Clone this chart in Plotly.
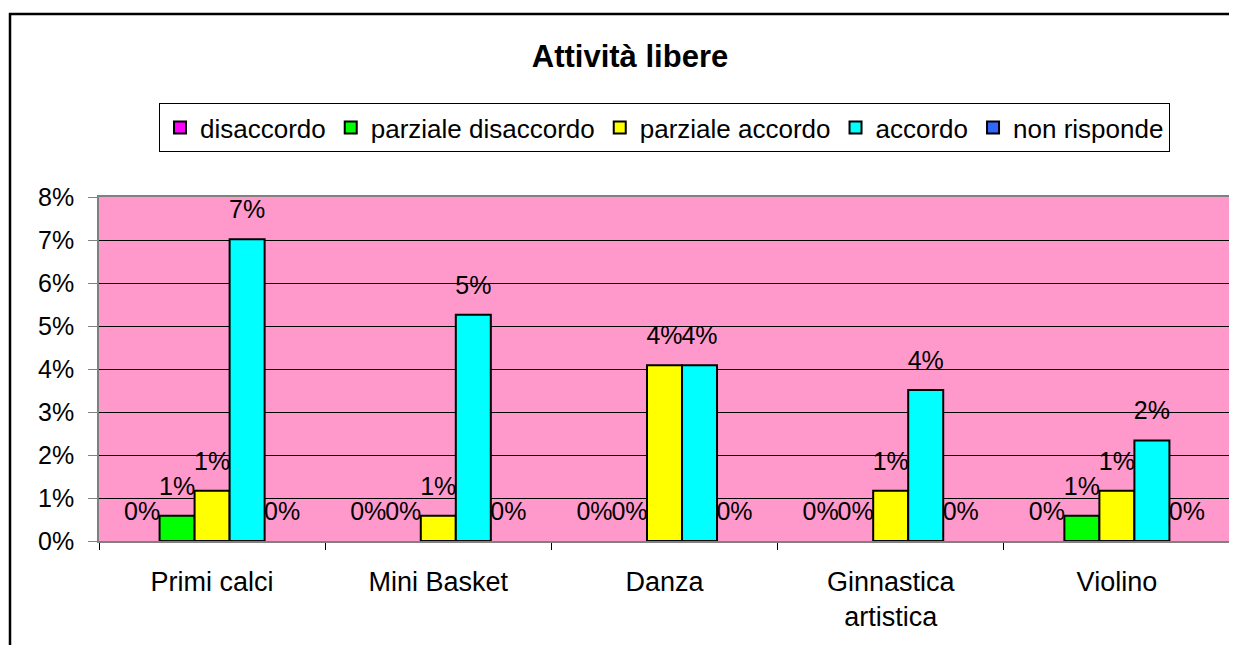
import plotly.graph_objects as go

categories = ["Primi calci", "Mini Basket", "Danza", "Ginnastica<br>artistica", "Violino"]
series_names = ["disaccordo", "parziale disaccordo", "parziale accordo", "accordo", "non risponde"]
disaccordo = [0.0, 0.0, 0.0, 0.0, 0.0]
parziale_disaccordo = [0.00585, 0.0, 0.0, 0.0, 0.00585]
parziale_accordo = [0.0117, 0.00585, 0.0409, 0.0117, 0.0117]
accordo = [0.0702, 0.0526, 0.0409, 0.0351, 0.0234]
non_risponde = [0.0, 0.0, 0.0, 0.0, 0.0]
series_values = [disaccordo, parziale_disaccordo, parziale_accordo, accordo, non_risponde]
colors = ["#FF00FF", "#00FF00", "#FFFF00", "#00FFFF", "#3366FF"]
y_ticks = [0, 0.01, 0.02, 0.03, 0.04, 0.05, 0.06, 0.07, 0.08]

FONT = "Liberation Sans, Arial, sans-serif"
# page body has an 8px default margin; figure is sized/placed to compensate
W, H = 1229, 637
fig = go.Figure()
for i, (name, vals, col) in enumerate(zip(series_names, series_values, colors)):
    fig.add_trace(go.Bar(
        x=categories, y=[v if v > 0 else None for v in vals], name=name, offsetgroup=str(i),
        marker=dict(color=col, line=dict(color="black", width=2)),
        hoverinfo="skip",
    ))
for i, (name, vals) in enumerate(zip(series_names, series_values)):
    fig.add_trace(go.Scatter(
        x=categories, y=vals, mode="markers+text", offsetgroup=str(i),
        text=[f"{v:.0%}" for v in vals], textposition="top center",
        textfont=dict(family=FONT, size=25, color="black"),
        marker=dict(size=22, opacity=0), showlegend=False, hoverinfo="skip",
        cliponaxis=False,
    ))

fig.update_layout(
    width=W, height=H,
    margin=dict(l=91, r=7, t=189, b=104),
    paper_bgcolor="white", plot_bgcolor="#FF99CC",
    barmode="group", bargap=0.226, bargroupgap=0,
    scattermode="group", scattergap=0.226,
    font=dict(family=FONT, size=25, color="black"),
    title=dict(text="<b>Attività libere</b>", x=622/W, xanchor="center",
               y=1-48/H, yanchor="middle", yref="container", xref="container",
               font=dict(family=FONT, size=31, color="black")),
    legend=dict(orientation="h", x=0.5, xanchor="center", y=(541-103)/344, yanchor="top",
                bordercolor="black", borderwidth=1, bgcolor="white",
                font=dict(family=FONT, size=26), itemclick=False),
    showlegend=True,
)
fig.update_yaxes(range=[0, 0.08], tickvals=y_ticks, tickformat=".0%",
                 showgrid=True, gridcolor="black", gridwidth=1,
                 showline=True, linecolor="#808080", linewidth=1.5, mirror=True,
                 ticks="outside", ticklen=9, tickcolor="#808080",
                 ticklabelstandoff=9, zeroline=False, fixedrange=True,
                 automargin=False, tickfont=dict(size=25))
fig.update_xaxes(tickson="boundaries", ticks="outside", ticklen=7, tickcolor="black",
                 showline=True, linecolor="#808080", linewidth=1.5, mirror=True,
                 ticklabelstandoff=16, fixedrange=True, automargin=False,
                 tickfont=dict(size=27))
fig.add_shape(type="rect", xref="paper", yref="paper",
              x0=(10-99)/1131, x1=(1245-99)/1131, y0=-0.4, y1=(541-14)/344,
              line=dict(color="black", width=2.5), layer="below")
fig.write_html("out.html")
